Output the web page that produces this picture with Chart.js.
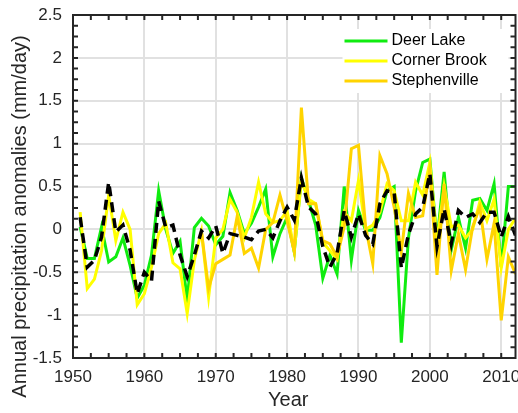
<!DOCTYPE html>
<html>
<head>
<meta charset="utf-8">
<script src="https://cdn.jsdelivr.net/npm/chart.js@4"></script>
<style>
  html, body { margin: 0; padding: 0; background: #fff; }
  #anomaly-chart { display: block; }
</style>
</head>
<body>
<canvas id="anomaly-chart" width="518" height="413"></canvas>
<script>
// Annual precipitation anomalies, western Newfoundland stations
const years = [
    1951, 1952, 1953, 1954, 1955, 1956, 1957, 1958, 1959, 1960,
    1961, 1962, 1963, 1964, 1965, 1966, 1967, 1968, 1969, 1970,
    1971, 1972, 1973, 1974, 1975, 1976, 1977, 1978, 1979, 1980,
    1981, 1982, 1983, 1984, 1985, 1986, 1987, 1988, 1989, 1990,
    1991, 1992, 1993, 1994, 1995, 1996, 1997, 1998, 1999, 2000,
    2001, 2002, 2003, 2004, 2005, 2006, 2007, 2008, 2009, 2010,
    2011, 2012
];

const deerLake = [
    0.03, -0.34, -0.34, 0.03, -0.38, -0.32, -0.1, -0.42, -0.8, -0.65,
    -0.3, 0.45, 0.0, -0.28, -0.14, -0.82, 0.02, 0.13, 0.04, -0.18,
    -0.08, 0.43, 0.22, -0.05, 0.07, 0.26, 0.47, -0.32, -0.05, 0.14,
    -0.26, 0.6, 0.34, 0.05, -0.57, -0.3, -0.52, 0.5, -0.36, 0.22,
    -0.01, -0.01, 0.14, 0.45, 0.5, -1.32, -0.1, 0.45, 0.78, 0.82,
    -0.13, 0.67, -0.24, 0.14, -0.22, 0.34, 0.36, 0.22, 0.53, -0.44,
    0.5, 0.5
];

const cornerBrook = [
    0.2, -0.69, -0.58, -0.25, 0.4, -0.13, 0.2, 0.0, -0.88, -0.75,
    -0.44, -0.05, 0.07, -0.39, -0.46, -0.98, -0.36, -0.02, -0.79, -0.1,
    0.0, 0.35, 0.2, -0.1, 0.14, 0.55, 0.18, 0.08, 0.1, 0.22,
    -0.25, 0.57, 0.35, 0.3, -0.15, -0.25, -0.35, 0.2, 0.1, 0.57,
    0.0, 0.05, 0.2, 0.53, 0.45, 0.1, 0.1, 0.55, 0.4, 0.78,
    -0.15, 0.5, 0.03, 0.05, -0.1, 0.0, 0.32, 0.1, 0.35, -0.45,
    0.0, 0.13
];

// no record before 1968
const stephenville = [
    null, null, null, null, null, null, null, null, null, null,
    null, null, null, null, null, null, null, -0.03, -0.69, -0.4,
    -0.35, -0.3, 0.15, -0.28, -0.22, -0.45, 0.0, 0.08, 0.4, 0.1,
    -0.26, 1.42, 0.3, 0.3, -0.13, -0.17, -0.32, 0.03, 0.94, 0.98,
    0.03, -0.4, 0.86, 0.65, 0.26, -0.26, 0.42, 0.14, 0.16, 0.7,
    -0.53, 0.53, -0.48, -0.05, -0.47, 0.03, 0.26, -0.35, 0.07, -1.06,
    -0.32, -0.52
];

// regional mean (dashed)
const regionalMean = [
    0.14, -0.44, -0.36, -0.09, 0.55, -0.03, 0.05, -0.24, -0.75, -0.5,
    -0.6, 0.33, 0.02, 0.05, -0.3, -0.55, -0.3, -0.02, -0.1, 0.04,
    -0.28, -0.05, -0.07, -0.09, -0.12, -0.02, 0.0, -0.1, 0.1, 0.26,
    0.11, 0.6, 0.26, 0.18, -0.2, -0.44, -0.28, 0.22, -0.09, 0.18,
    -0.07, -0.17, 0.3, 0.45, 0.43, -0.45, -0.06, 0.18, 0.26, 0.65,
    -0.2, 0.24, -0.17, 0.22, 0.14, 0.18, 0.08, 0.2, 0.2, -0.09,
    0.15, -0.07
];

const xTicks = [1950, 1960, 1970, 1980, 1990, 2000, 2010];
const yTicks = [-1.5, -1, -0.5, 0, 0.5, 1, 1.5, 2, 2.5];

const xTitle = 'Year';
const yTitle = 'Annual precipitation anomalies (mm/day)';

const axisColor = '#262626';
const gridColor = '#e1e1e1';
const fontFamily = '"Liberation Sans", Arial, Helvetica, sans-serif';

function toPoints(values) {
    return years.map((yr, i) => ({ x: yr, y: values[i] }));
}

// keep the plot box fixed, tick labels may hang over the edges
function noEdgePadding(scale) {
    scale.paddingLeft = 0;
    scale.paddingRight = 0;
    scale.paddingTop = 0;
    scale.paddingBottom = 0;
}

// box around the plot with inward minor/major ticks on all four sides
const axesBox = {
    id: 'axesBox',
    afterDatasetsDraw(chart) {
        const { ctx, chartArea: a, scales: { x, y } } = chart;
        const len = 5;
        ctx.save();
        ctx.strokeStyle = axisColor;
        ctx.lineWidth = 2;
        ctx.beginPath();
        for (let v = 1950; v <= 2012; v += 2.5) {
            const px = x.getPixelForValue(v);
            ctx.moveTo(px, a.bottom); ctx.lineTo(px, a.bottom - len);
            ctx.moveTo(px, a.top); ctx.lineTo(px, a.top + len);
        }
        for (let v = -1.5; v <= 2.5 + 1e-9; v += 0.125) {
            const py = y.getPixelForValue(v);
            ctx.moveTo(a.left, py); ctx.lineTo(a.left + len, py);
            ctx.moveTo(a.right, py); ctx.lineTo(a.right - len, py);
        }
        ctx.stroke();
        ctx.strokeRect(a.left, a.top, a.right - a.left, a.bottom - a.top);
        ctx.restore();
    }
};

// axis titles, set a little off the plot centre
const axisTitles = {
    id: 'axisTitles',
    afterDraw(chart) {
        const { ctx, chartArea: a } = chart;
        ctx.save();
        ctx.fillStyle = axisColor;
        ctx.font = '20px ' + fontFamily;
        ctx.textAlign = 'center';
        ctx.textBaseline = 'alphabetic';
        ctx.fillText(xTitle, (a.left + a.right) / 2 - 6, 406);
        ctx.translate(26, (a.top + a.bottom) / 2 + 30);
        ctx.rotate(-Math.PI / 2);
        ctx.fillText(yTitle, 0, 0);
        ctx.restore();
    }
};

// legend drawn inside the plot, top right
const insideLegend = {
    id: 'insideLegend',
    afterDraw(chart) {
        const { ctx, chartArea: a } = chart;
        const items = chart.data.datasets.filter(ds => ds.label);
        const left = a.right - 171;
        const top = a.top + 14;
        ctx.save();
        ctx.fillStyle = '#fff';
        ctx.fillRect(left - 2, top, 166, items.length * 20 + 4);
        ctx.font = '16px ' + fontFamily;
        ctx.textBaseline = 'middle';
        items.forEach((ds, i) => {
            const cy = top + 12 + i * 20;
            ctx.strokeStyle = ds.borderColor;
            ctx.lineWidth = 3;
            ctx.beginPath();
            ctx.moveTo(left, cy);
            ctx.lineTo(left + 43, cy);
            ctx.stroke();
            ctx.fillStyle = '#000';
            ctx.fillText(ds.label, left + 47, cy);
        });
        ctx.restore();
    }
};

const ctx = document.querySelector('#anomaly-chart').getContext('2d');

const anomalyGraph = new Chart(ctx, {
    type: 'line',
    data: {
        datasets: [
            {
                label: 'Deer Lake',
                data: toPoints(deerLake),
                borderColor: '#10ec10',
                borderWidth: 3,
                pointRadius: 0,
                order: 3
            },
            {
                label: 'Corner Brook',
                data: toPoints(cornerBrook),
                borderColor: '#ffff00',
                borderWidth: 3,
                pointRadius: 0,
                order: 2
            },
            {
                label: 'Stephenville',
                data: toPoints(stephenville),
                borderColor: '#ffd400',
                borderWidth: 3,
                pointRadius: 0,
                order: 1
            },
            {
                label: '',
                data: toPoints(regionalMean),
                borderColor: '#000000',
                borderWidth: 3.5,
                borderDash: [10, 6],
                pointRadius: 0,
                order: 0
            }
        ]
    },
    options: {
        responsive: false,
        animation: false,
        layout: {
            padding: { top: 15, right: 2.5, left: 0, bottom: 0 }
        },
        plugins: {
            legend: { display: false },
            tooltip: { enabled: false }
        },
        scales: {
            x: {
                type: 'linear',
                min: 1950,
                max: 2012,
                afterBuildTicks: scale => { scale.ticks = xTicks.map(v => ({ value: v })); },
                afterFit: scale => { scale.height = 55; noEdgePadding(scale); },
                grid: { color: gridColor, lineWidth: 2, drawTicks: false },
                border: { display: false },
                ticks: {
                    callback: v => String(v),
                    color: axisColor,
                    padding: 9,
                    maxRotation: 0,
                    font: { family: fontFamily, size: 17 }
                }
            },
            y: {
                min: -1.5,
                max: 2.5,
                afterBuildTicks: scale => { scale.ticks = yTicks.map(v => ({ value: v })); },
                afterFit: scale => { scale.width = 73; noEdgePadding(scale); },
                grid: { color: gridColor, lineWidth: 2, drawTicks: false },
                border: { display: false },
                ticks: {
                    callback: v => String(v),
                    color: axisColor,
                    padding: 11,
                    font: { family: fontFamily, size: 17 }
                }
            }
        }
    },
    plugins: [axesBox, axisTitles, insideLegend]
});
</script>
</body>
</html>
